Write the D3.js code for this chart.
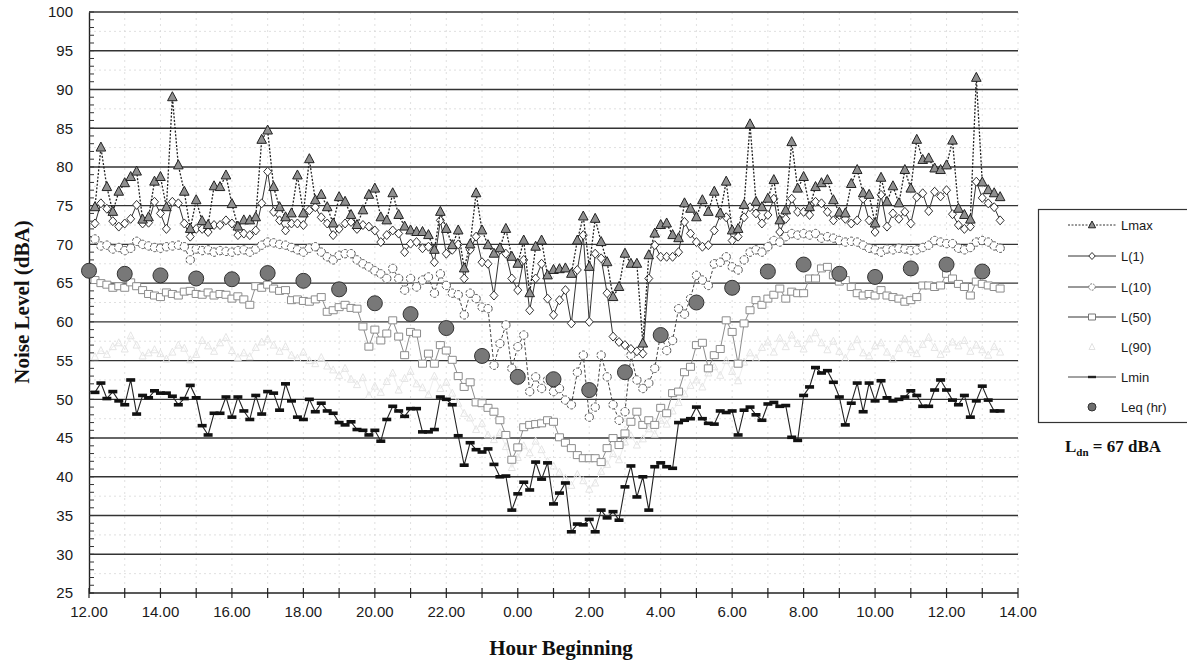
<!DOCTYPE html>
<html><head><meta charset="utf-8">
<script src="https://cdn.jsdelivr.net/npm/d3@7"></script>
<style>body{margin:0;background:#fff}svg{display:block}</style>
</head><body>
<svg id="chart" width="1187" height="663"></svg>
<script>
// ---------- data ----------
const firstSampleMin = 10;   // first sample at 12:10
const sampleStepMin = 10;    // 10-minute samples
const xTickLabels = ["12.00","14.00","16.00","18.00","20.00","22.00","0.00","2.00","4.00","6.00","8.00","10.00","12.00","14.00"];
const yTickValues = [25,30,35,40,45,50,55,60,65,70,75,80,85,90,95,100];
const seriesNames = ["Lmax","L(1)","L(10)","L(50)","L(90)","Lmin","Leq (hr)"];

const Lmax = [74.8,82.5,77.4,74.2,76.8,77.9,78.7,79.4,73.2,73.5,
 78.1,78.7,74.8,89.0,80.2,76.8,72.0,75.7,73.0,72.5,
 77.5,77.4,78.9,75.2,72.3,73.1,73.1,73.5,83.5,84.7,
 77.4,74.8,73.5,74.0,78.9,74.0,81.0,75.7,76.4,74.8,
 72.7,76.1,75.5,73.8,72.5,74.4,76.4,77.2,73.5,73.1,
 76.6,73.8,72.3,71.8,71.6,71.6,71.2,69.3,74.2,72.0,
 69.9,71.8,66.9,70.0,76.6,71.8,69.9,68.8,69.5,72.0,
 68.4,67.5,70.5,63.7,69.7,70.5,66.0,66.7,66.8,66.9,
 66.2,70.5,73.6,67.1,73.3,70.3,67.7,63.2,64.5,68.8,
 67.5,67.5,57.2,68.6,71.4,72.5,72.7,71.2,70.8,75.3,
 74.6,73.5,75.7,74.2,76.8,74.0,78.1,71.8,72.0,75.1,
 85.5,75.5,74.8,75.9,78.3,73.1,74.4,83.2,77.2,78.7,
 74.8,77.4,77.9,78.3,75.7,74.1,74.0,77.8,79.6,76.6,
 76.4,72.7,78.6,75.5,77.5,75.3,79.6,77.2,83.5,80.9,
 81.1,79.8,79.6,80.2,83.4,74.6,73.8,73.2,91.5,78.0,
 77.0,76.6,76.1];

const L1 = [72.7,75.3,74.6,73.0,72.3,72.7,73.3,75.1,72.7,72.8,
 75.5,74.0,72.0,75.5,75.3,72.7,71.0,72.0,72.0,71.6,
 72.5,72.5,73.1,72.7,71.2,71.4,71.2,71.8,75.3,79.4,
 74.2,73.1,71.8,72.7,72.7,72.5,74.4,74.8,73.5,72.7,
 71.2,72.0,72.7,72.9,72.0,72.5,72.3,71.8,70.3,71.2,
 71.8,71.4,69.0,70.1,70.3,69.5,69.7,67.7,73.1,68.8,
 69.3,70.0,65.6,69.3,71.0,67.7,67.5,63.4,69.3,68.8,
 65.6,64.1,68.0,61.5,65.6,67.5,63.0,60.9,62.8,64.1,
 59.8,66.7,71.2,60.0,68.8,68.2,63.7,58.1,57.4,57.0,
 56.5,56.2,55.9,65.6,69.9,68.4,68.4,68.4,69.0,72.9,
 71.4,70.3,69.7,69.9,71.8,73.8,73.5,70.5,71.0,73.5,
 74.8,74.0,72.7,73.8,75.9,71.6,73.3,75.9,74.2,74.2,
 73.8,75.5,75.3,74.2,73.1,73.8,73.3,72.7,73.1,75.9,
 73.1,71.6,76.4,72.3,74.0,73.3,74.2,72.7,76.1,76.6,
 74.3,76.8,76.2,77.0,73.9,72.5,72.0,72.3,78.1,76.0,
 75.3,74.8,73.1];

const L10 = [70.7,69.8,69.9,69.4,69.6,69.2,69.5,70.4,70.0,69.8,
 69.6,69.5,69.7,69.8,69.9,69.7,68.0,69.4,69.2,69.3,
 69.0,69.2,69.1,69.0,69.2,69.3,69.0,69.4,69.9,70.3,
 70.2,70.0,69.9,69.6,69.3,69.0,69.5,69.7,69.0,68.4,
 68.0,68.6,68.8,68.8,68.0,67.5,67.1,66.6,66.2,65.6,
 66.9,65.6,64.1,65.6,64.5,65.4,65.8,63.7,66.2,64.7,
 63.7,63.5,60.9,63.7,63.0,61.9,61.7,54.4,57.2,59.6,
 54.0,56.8,58.3,51.0,52.9,51.4,52.5,51.0,51.4,49.9,
 49.3,53.5,55.7,47.7,49.0,55.7,52.9,49.3,47.3,48.4,
 55.7,52.5,51.4,52.1,54.0,58.5,56.3,57.6,61.7,61.0,
 63.0,66.0,65.4,64.7,67.5,67.7,68.4,67.1,66.7,68.0,
 69.0,69.3,69.0,69.7,70.5,70.3,71.0,71.4,71.2,71.4,
 71.2,71.4,70.8,71.0,70.8,70.5,70.3,70.4,70.3,69.9,
 69.5,69.3,69.0,69.4,69.3,69.5,69.4,69.2,69.3,69.6,
 69.9,70.5,70.3,70.1,70.1,69.5,69.3,69.6,70.3,70.5,
 70.3,69.8,69.5];

const L50 = [65.4,65.0,64.8,64.4,64.6,64.4,65.1,64.6,64.1,63.6,
 63.4,63.2,63.8,63.6,63.4,63.9,64.0,63.6,63.5,63.8,
 63.4,63.6,63.5,63.0,63.3,62.9,62.2,64.6,64.4,64.8,
 64.3,64.0,64.1,62.8,62.9,62.7,62.6,62.9,63.2,61.3,
 61.5,61.9,62.2,61.8,61.7,59.4,56.8,59.0,57.6,58.5,
 60.2,58.1,55.7,58.7,58.5,54.6,55.9,54.6,57.0,56.3,
 55.1,53.0,51.6,52.2,49.6,49.5,48.9,48.4,47.3,45.4,
 42.2,43.8,46.4,46.7,46.8,46.9,47.3,47.1,45.1,44.4,
 43.7,42.8,42.4,42.4,42.4,41.9,43.7,45.0,44.1,45.6,
 47.1,48.4,46.7,47.3,46.7,48.9,48.2,50.8,51.0,53.5,
 54.2,57.0,57.3,54.0,55.7,56.5,60.2,58.7,54.6,59.8,
 61.5,62.8,62.2,63.0,63.5,64.3,63.0,63.9,63.7,63.7,
 65.6,65.6,66.9,67.1,66.0,65.2,65.4,64.5,63.7,63.4,
 63.6,63.4,64.1,63.4,63.2,63.0,62.6,62.8,63.2,64.7,
 64.7,64.5,64.7,66.2,65.6,64.9,64.5,63.4,65.2,64.9,
 64.7,64.5,64.3];

const L90 = [55.5,56.3,55.8,56.8,57.3,56.5,58.2,57.0,55.6,56.0,
 56.4,55.9,55.2,56.1,57.0,56.6,55.1,55.8,57.6,56.9,
 56.2,57.3,58.0,56.3,55.4,56.0,55.5,56.7,57.4,57.8,
 57.0,56.2,56.8,55.7,55.3,56.1,55.0,54.6,55.4,54.3,
 53.8,53.1,54.0,52.6,51.9,52.8,50.5,51.7,50.9,52.3,
 53.4,51.2,52.7,53.6,52.0,51.5,50.6,53.0,51.4,52.2,
 50.8,49.5,48.2,47.6,46.1,46.9,45.4,44.8,45.7,43.9,
 41.2,42.5,44.0,43.1,44.6,43.5,42.0,41.4,40.6,39.8,
 38.9,40.3,39.5,38.4,39.2,40.7,41.6,43.0,42.2,44.5,
 45.3,44.1,44.9,46.2,45.5,47.3,46.8,48.5,49.6,50.7,
 51.8,52.5,51.6,53.4,54.2,53.1,55.0,53.6,52.4,54.8,
 56.0,55.3,56.7,57.4,56.1,57.9,56.8,58.3,57.2,56.5,
 57.8,58.6,57.3,56.4,57.5,56.2,55.3,56.8,57.7,56.0,
 55.6,56.9,57.3,56.1,55.2,56.6,57.8,56.4,55.9,57.1,
 58.0,56.7,55.8,56.5,57.4,56.9,57.6,56.2,57.0,56.4,
 55.7,56.8,56.1];

const Lmin = [50.9,52.1,50.1,51.0,49.8,49.3,52.5,48.1,50.5,50.2,
 51.1,50.8,50.8,50.4,49.3,50.1,51.8,50.2,46.6,45.4,
 48.2,48.2,50.3,47.7,50.3,48.5,47.4,50.5,48.1,51.0,
 50.8,48.6,52.0,49.8,47.7,47.4,50.0,48.4,49.5,48.5,
 48.2,47.0,46.7,47.1,46.1,46.0,45.4,46.0,44.6,47.4,
 49.1,48.5,47.8,48.8,48.8,45.8,45.8,46.1,50.3,50.0,
 49.3,45.3,41.5,44.4,43.5,43.2,43.6,41.6,40.0,40.1,
 35.7,37.8,39.3,38.3,41.9,39.7,41.8,36.5,37.9,39.2,
 32.9,33.9,33.8,34.5,32.9,35.7,34.7,35.5,34.4,38.7,
 41.4,37.4,40.0,35.7,41.3,41.8,41.3,41.1,47.0,47.3,
 47.5,49.0,47.5,46.9,46.8,48.5,48.3,48.5,45.4,48.6,
 49.0,48.0,47.3,49.4,49.6,49.1,49.2,45.1,44.7,50.5,
 51.6,54.1,53.4,53.7,52.2,50.3,46.7,49.5,52.1,48.4,
 52.1,49.8,52.4,50.2,49.8,50.0,50.3,51.1,50.5,49.1,
 49.1,51.2,52.5,51.2,49.9,49.3,50.5,47.7,49.8,51.7,
 49.9,48.5,48.5];

// hourly Leq, plotted at each hour beginning 12:00 .. 13:00 next day
const LeqHr = [66.6,66.2,66.0,65.6,65.5,66.3,65.3,64.2,62.4,61.0,59.2,55.6,52.9,
 52.6,51.2,53.5,58.3,62.5,64.4,66.5,67.4,66.2,65.8,66.9,67.4,66.5];

// ---------- layout ----------
const svg = d3.select("#chart");
const X0 = 89, X1 = 1018, Y0 = 593, Y1 = 12;
const x = d3.scaleLinear().domain([0, 26]).range([X0, X1]);
const y = d3.scaleLinear().domain([25, 100]).range([Y0, Y1]);
const sampleHour = i => (firstSampleMin + i * sampleStepMin) / 60;

const sans = "'Liberation Sans', Arial, sans-serif";
const serif = "'Liberation Serif', 'Times New Roman', serif";

// faint minor grid
const g = svg.append("g");
for (let v = 27.5; v < 100; v += 5) {
  g.append("line").attr("x1", X0).attr("x2", X1).attr("y1", y(v)).attr("y2", y(v))
   .attr("stroke", "#d8d8d8").attr("stroke-width", 0.8).attr("stroke-dasharray", "2,3");
}
for (let h = 1; h <= 26; h++) {
  g.append("line").attr("x1", x(h)).attr("x2", x(h)).attr("y1", Y1).attr("y2", Y0)
   .attr("stroke", "#d8d8d8").attr("stroke-width", 0.8).attr("stroke-dasharray", "2,4");
}
// major grid
yTickValues.filter(v => v > 25).forEach(v => {
  g.append("line").attr("x1", X0).attr("x2", X1).attr("y1", y(v)).attr("y2", y(v))
   .attr("stroke", "#333").attr("stroke-width", 1.4);
});

// y axis
const yAxis = d3.axisLeft(y).tickValues(yTickValues).tickSize(0).tickPadding(16)
  .tickFormat(d3.format("d"));
const ya = svg.append("g").attr("transform", `translate(${X0},0)`).call(yAxis);
ya.select(".domain").attr("stroke", "#222").attr("stroke-width", 1.4);
ya.selectAll("text").attr("font-family", sans).attr("font-size", 15).attr("fill", "#1a1a1a");
// minor y ticks (inside)
const minorY = d3.range(25, 101, 1);
svg.append("g").selectAll("line").data(minorY).join("line")
  .attr("x1", X0).attr("x2", X0 + 5).attr("y1", d => y(d)).attr("y2", d => y(d))
  .attr("stroke", "#333").attr("stroke-width", 1);

// x axis
const xa = svg.append("g").attr("transform", `translate(0,${Y0})`);
xa.append("line").attr("x1", X0).attr("x2", X1).attr("stroke", "#222").attr("stroke-width", 1.4);
const hourTicks = d3.range(0, 27, 1);
xa.selectAll("line.t").data(hourTicks).join("line").attr("class", "t")
  .attr("x1", d => x(d)).attr("x2", d => x(d)).attr("y1", -5).attr("y2", 5)
  .attr("stroke", "#222").attr("stroke-width", 1.2);
xa.selectAll("text").data(xTickLabels).join("text")
  .attr("x", (d, i) => x(i * 2)).attr("y", 24).attr("text-anchor", "middle")
  .attr("font-family", sans).attr("font-size", 15).attr("fill", "#1a1a1a").text(d => d);

// titles
svg.append("text").attr("transform", "translate(29,302) rotate(-90)").attr("text-anchor", "middle")
  .attr("font-family", serif).attr("font-weight", "bold").attr("font-size", 21).attr("fill", "#111")
  .text("Noise Level (dBA)");
svg.append("text").attr("x", 561).attr("y", 655).attr("text-anchor", "middle")
  .attr("font-family", serif).attr("font-weight", "bold").attr("font-size", 21).attr("fill", "#111")
  .text("Hour Beginning");

// ---------- markers ----------
const triPath = "M0,-5.5L4.8,3.5L-4.8,3.5Z";
const diaPath = "M0,-4.5L4,0L0,4.5L-4,0Z";
const sqPath = "M-4,-3.5H4V3.5H-4Z";
const smallTri = "M0,-4L3.5,3L-3.5,3Z";

function lineFor(data, stroke, width, dash) {
  const gen = d3.line().x((d, i) => x(sampleHour(i))).y(d => y(d));
  const p = svg.append("path").datum(data).attr("d", gen).attr("fill", "none")
    .attr("stroke", stroke).attr("stroke-width", width);
  if (dash) p.attr("stroke-dasharray", dash);
}
function markersFor(data, path, fill, stroke, sw, dash) {
  const s = svg.append("g").selectAll("path").data(data).join("path")
    .attr("d", path).attr("transform", (d, i) => `translate(${x(sampleHour(i))},${y(d)})`)
    .attr("fill", fill).attr("stroke", stroke).attr("stroke-width", sw);
  if (dash) s.attr("stroke-dasharray", dash);
}

// L(90)
lineFor(L90, "#eeeeee", 1);
markersFor(L90, smallTri, "none", "#e2e2e2", 0.9);
// L(50)
lineFor(L50, "#8c8c8c", 1);
markersFor(L50, sqPath, "#fff", "#8c8c8c", 1);
// L(10)
lineFor(L10, "#444", 1, "3,2");
svg.append("g").selectAll("circle").data(L10).join("circle")
  .attr("cx", (d, i) => x(sampleHour(i))).attr("cy", d => y(d)).attr("r", 4.2)
  .attr("fill", "#fff").attr("stroke", "#555").attr("stroke-width", 1).attr("stroke-dasharray", "3,1.5");
// Lmin
lineFor(Lmin, "#222", 1.1);
markersFor(Lmin, "M-4.5,-1.8H4.5V1.8H-4.5Z", "#111", "none", 0);
// L(1)
lineFor(L1, "#333", 1);
markersFor(L1, diaPath, "#fff", "#333", 1);
// Lmax
lineFor(Lmax, "#222", 1.3, "2,1.6");
markersFor(Lmax, triPath, "#8f8f8f", "#222", 1);
// Leq (hr)
svg.append("g").selectAll("circle").data(LeqHr).join("circle")
  .attr("cx", (d, i) => x(i)).attr("cy", d => y(d)).attr("r", 7.5)
  .attr("fill", "#787878").attr("stroke", "#333").attr("stroke-width", 1);

// ---------- legend ----------
const lg = svg.append("g");
lg.append("rect").attr("x", 1038.5).attr("y", 209.5).attr("width", 170).attr("height", 213)
  .attr("fill", "#fff").attr("stroke", "#333").attr("stroke-width", 1.2);
const legY = [225, 256, 287, 317, 347, 377, 407];
const lx1 = 1068, lx2 = 1116, lm = 1092;
function legText(i) {
  lg.append("text").attr("x", 1121).attr("y", legY[i] + 4.5).attr("font-family", sans)
    .attr("font-size", 13).attr("fill", "#1a1a1a").text(seriesNames[i]);
}
function legLine(i, stroke, dash) {
  const l = lg.append("line").attr("x1", lx1).attr("x2", lx2).attr("y1", legY[i]).attr("y2", legY[i])
    .attr("stroke", stroke).attr("stroke-width", 1);
  if (dash) l.attr("stroke-dasharray", dash);
}
legLine(0, "#333", "2,1.5");
lg.append("path").attr("d", "M0,-4L3.6,2.8L-3.6,2.8Z").attr("transform", `translate(${lm},${legY[0]})`)
  .attr("fill", "#8f8f8f").attr("stroke", "#222");
legLine(1, "#333");
lg.append("path").attr("d", "M0,-3.5L3.2,0L0,3.5L-3.2,0Z").attr("transform", `translate(${lm},${legY[1]})`)
  .attr("fill", "#fff").attr("stroke", "#333");
legLine(2, "#333");
lg.append("circle").attr("cx", lm).attr("cy", legY[2]).attr("r", 3.2).attr("fill", "#fff")
  .attr("stroke", "#777").attr("stroke-dasharray", "2,1.2");
legLine(3, "#333");
lg.append("path").attr("d", "M-3.5,-3H3.5V3H-3.5Z").attr("transform", `translate(${lm},${legY[3]})`)
  .attr("fill", "#fff").attr("stroke", "#777");
lg.append("path").attr("d", "M0,-3.5L3,2.5L-3,2.5Z").attr("transform", `translate(${lm},${legY[4]})`)
  .attr("fill", "none").attr("stroke", "#e2e2e2");
legLine(5, "#444");
lg.append("path").attr("d", "M-4,-1.2H4V1.2H-4Z").attr("transform", `translate(${lm},${legY[5]})`)
  .attr("fill", "#222");
lg.append("circle").attr("cx", lm).attr("cy", legY[6]).attr("r", 4).attr("fill", "#6e6e6e").attr("stroke", "#333");
for (let i = 0; i < 7; i++) legText(i);

// Ldn note
const ldn = svg.append("text").attr("x", 1065).attr("y", 452).attr("font-family", serif)
  .attr("font-weight", "bold").attr("font-size", 17).attr("fill", "#111");
ldn.append("tspan").text("L");
ldn.append("tspan").attr("font-size", 11).attr("dy", 4).text("dn");
ldn.append("tspan").attr("dy", -4).text(" = 67 dBA");
</script>
</body></html>
